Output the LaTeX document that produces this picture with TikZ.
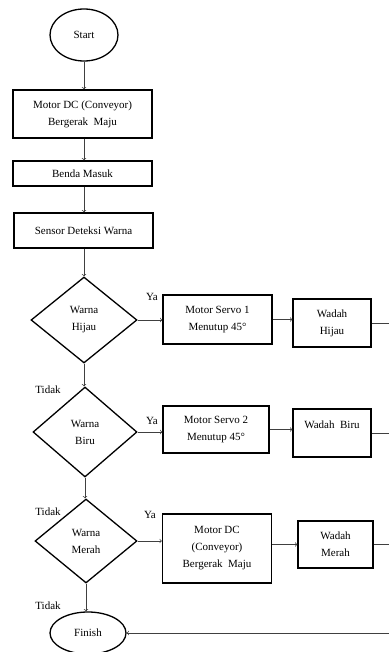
\documentclass[tikz,border=0pt]{standalone}
\usepackage{fontspec}
\setmainfont{Liberation Serif}
\usetikzlibrary{shapes.geometric}

\begin{document}
\begin{tikzpicture}[x=1pt, y=-1pt,
    every node/.style={font=\fontsize{11}{17}\selectfont, align=center},
    kotak/.style={draw, line width=1.3pt, inner sep=0pt},
    terminal/.style={draw, ellipse, line width=1.3pt, inner sep=0pt},
    cabang/.style={draw, diamond, line width=1.3pt, inner sep=0pt},
    panah/.style={->, line width=0.7pt, black!75},
    garis/.style={line width=0.7pt, black!75}]

    \useasboundingbox (0,0) rectangle (388,652);

    \node[terminal, minimum width=68pt, minimum height=52pt] (start) at (84,35) {Start};
    \node[kotak, minimum width=139pt, minimum height=48pt] (motor1) at (82.5,114) {Motor DC (Conveyor)\\Bergerak~ Maju};
    \node[kotak, minimum width=139pt, minimum height=25pt] (benda) at (82.5,173.5) {Benda Masuk};
    \node[kotak, minimum width=139pt, minimum height=35pt] (sensor) at (83.5,230.5) {Sensor Deteksi Warna};

    \node[cabang, minimum width=106pt, minimum height=86pt] (hijau) at (84,320) {Warna\\Hijau};
    \node[kotak, minimum width=109pt, minimum height=49pt] (servo1) at (217.5,319.5) {Motor Servo 1\\Menutup 45°};
    \node[kotak, minimum width=78pt, minimum height=48pt] (wadah1) at (332,323) {Wadah\\Hijau};

    \node[cabang, minimum width=104pt, minimum height=90pt] (biru) at (85,432) {Warna\\Biru};
    \node[kotak, minimum width=106pt, minimum height=47pt] (servo2) at (216,429.5) {Motor Servo 2\\Menutup 45°};
    \node[kotak, minimum width=78pt, minimum height=48pt] (wadah2) at (332,433) {Wadah~~Biru\\~};

    \node[cabang, minimum width=102pt, minimum height=84pt] (merah) at (86,541) {Warna\\Merah};
    \node[kotak, minimum width=109pt, minimum height=69pt] (motor2) at (217,548.5) {Motor DC\\(Conveyor)\\Bergerak~ Maju};
    \node[kotak, minimum width=75pt, minimum height=47pt] (wadah3) at (335.5,544.5) {Wadah\\Merah};

    \node[terminal, minimum width=76pt, minimum height=42pt] (finish) at (88,633) {Finish};

    \node (ya1) at (152,297) {Ya};
    \node (ya2) at (152,421) {Ya};
    \node (ya3) at (150,515) {Ya};
    \node (tidak1) at (48,390) {Tidak};
    \node (tidak2) at (48,512) {Tidak};
    \node (tidak3) at (48,606) {Tidak};

    \coordinate (kanan) at (391,0);

    \draw[panah] (start.south) -- (start.south |- motor1.north);
    \draw[panah] (start.south |- motor1.south) -- (start.south |- benda.north);
    \draw[panah] (start.south |- benda.south) -- (start.south |- sensor.north);
    \draw[panah] (sensor.south -| hijau.north) -- (hijau.north);
    \draw[panah] (hijau.south) -- (hijau.south |- biru.north);
    \draw[panah] (biru.south) -- (biru.south |- merah.north);
    \draw[panah] (merah.south) -- (merah.south |- finish.north);

    \draw[panah] (hijau.east) -- (hijau.east -| servo1.west);
    \draw[panah] (servo1.east) -- (servo1.east -| wadah1.west);
    \draw[panah] (biru.east) -- (biru.east -| servo2.west);
    \draw[panah] (servo2.east) -- (servo2.east -| wadah2.west);
    \draw[panah] (merah.east) -- (merah.east -| motor2.west);
    \draw[panah] (motor2.east |- wadah3.west) -- (wadah3.west);

    \draw[garis] (wadah1.east) -- (wadah1.east -| kanan);
    \draw[garis] (wadah2.east) -- (wadah2.east -| kanan);
    \draw[garis] (wadah3.east) -- (wadah3.east -| kanan);
    \draw[garis] (kanan |- wadah1.east) -- (kanan |- finish.east);
    \draw[panah] (kanan |- finish.east) -- (finish.east);
\end{tikzpicture}
\end{document}
